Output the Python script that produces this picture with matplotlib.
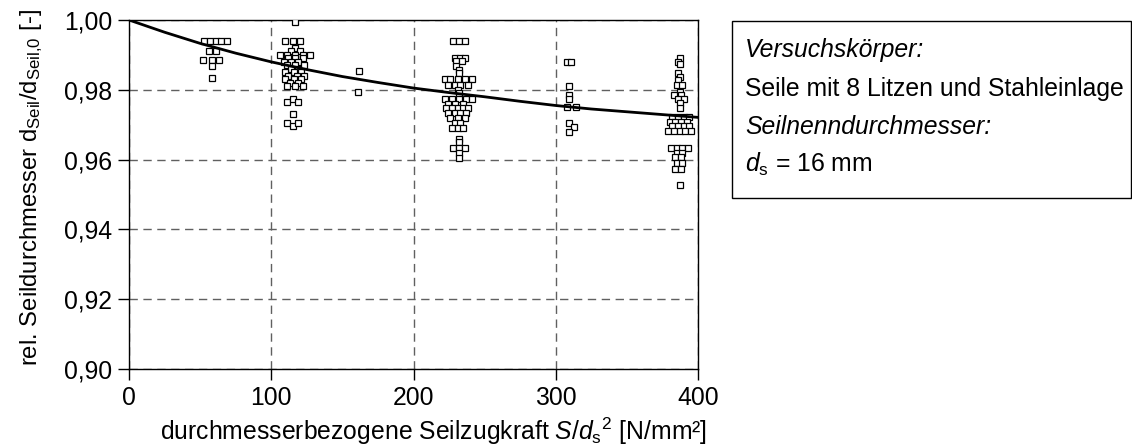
import matplotlib
matplotlib.use('Agg')
import matplotlib.pyplot as plt
from matplotlib.patches import Rectangle

plt.rcParams['font.family'] = ['Liberation Sans', 'DejaVu Sans']
plt.rcParams['mathtext.fontset'] = 'custom'
plt.rcParams['mathtext.rm'] = 'Liberation Sans'
plt.rcParams['mathtext.it'] = 'Liberation Sans:italic'
plt.rcParams['mathtext.default'] = 'regular'

# measured points: (force S/d^2, rel. diameter)
x_60 = [53, 57, 61, 65, 69, 56, 61, 52, 58, 63, 58, 58]
y_60 = [0.994, 0.994, 0.994, 0.994, 0.994, 0.991, 0.991, 0.9885, 0.9885, 0.9885, 0.9868, 0.9835]

x_118 = [117, 110, 115, 120,
         117, 114, 120, 106, 111, 117, 122, 127, 112, 117, 122, 109, 114, 119,
         111, 117, 123, 114, 119, 110, 116, 121, 112, 118, 123, 110, 116, 121,
         113, 119, 111, 117, 122,
         111, 115, 119, 115, 111, 115, 119]
y_118 = [0.9995, 0.994, 0.994, 0.994,
         0.992, 0.991, 0.991, 0.990, 0.990, 0.990, 0.990, 0.990, 0.989, 0.989, 0.989,
         0.988, 0.988, 0.988, 0.987, 0.987, 0.987, 0.986, 0.986, 0.985, 0.985, 0.985,
         0.984, 0.984, 0.984, 0.983, 0.983, 0.983, 0.982, 0.982, 0.981, 0.981, 0.981,
         0.9765, 0.9775, 0.9765, 0.973, 0.9705, 0.9695, 0.9705]

x_163 = [162, 161]
y_163 = [0.9855, 0.9795]

x_235 = [228, 232, 236, 229, 233, 236, 230, 234, 230, 232, 232,
         222, 226, 231, 236, 241, 224, 229, 233, 238, 231, 232,
         222, 227, 232, 237, 241, 224, 229, 235,
         223, 227, 231, 235, 238, 224, 229, 233, 237, 226, 231, 236,
         229, 233, 227, 231, 235, 232, 232, 228, 232, 236, 232, 232]
y_235 = [0.994, 0.994, 0.994, 0.989, 0.989, 0.989, 0.9882, 0.9882, 0.9868, 0.9858, 0.9848,
         0.983, 0.983, 0.983, 0.983, 0.983, 0.9815, 0.9815, 0.9815, 0.9815, 0.980, 0.979,
         0.9775, 0.9775, 0.9775, 0.9775, 0.9775, 0.976, 0.976, 0.976,
         0.9748, 0.9748, 0.9748, 0.9748, 0.9748, 0.9733, 0.9733, 0.9733, 0.9733,
         0.972, 0.972, 0.972, 0.9705, 0.9705, 0.969, 0.969, 0.969, 0.966, 0.965,
         0.9633, 0.9633, 0.9633, 0.962, 0.9605]

x_313 = [308, 311, 309, 309, 309, 308, 314, 309, 313, 309]
y_313 = [0.988, 0.988, 0.981, 0.9785, 0.9774, 0.9751, 0.9751, 0.9705, 0.9693, 0.968]

x_388 = [387, 386, 387, 386, 387, 386, 385, 389, 387, 383, 388, 386, 390, 387, 387,
         382, 386, 390, 394, 380, 384, 388, 392, 382, 386, 390, 394,
         379, 383, 387, 391, 395, 381, 385, 389, 393, 385, 389, 384, 388,
         385, 389, 384, 388, 387]
y_388 = [0.989, 0.988, 0.9874, 0.9847, 0.9838, 0.9828, 0.9814, 0.9814, 0.9795,
         0.9785, 0.9785, 0.9775, 0.9775, 0.9762, 0.9748,
         0.9722, 0.9722, 0.9722, 0.9722, 0.9709, 0.9709, 0.9709, 0.9709,
         0.9696, 0.9696, 0.9696, 0.9696, 0.9683, 0.9683, 0.9683, 0.9683, 0.9683,
         0.9632, 0.9632, 0.9632, 0.9632, 0.962, 0.962, 0.9608, 0.9608,
         0.9589, 0.9589, 0.9572, 0.9572, 0.9527]

# fitted curve
fit_x = [0, 25, 50, 75, 100, 125, 150, 175, 200, 225, 250, 275, 300, 325, 350, 375, 400]
fit_y = [1.000, 0.9965, 0.9933, 0.9905, 0.988, 0.9858, 0.9838, 0.9821, 0.9805,
         0.9792, 0.978, 0.9767, 0.9755, 0.9745, 0.9737, 0.9729, 0.9721]

xticks = [0, 100, 200, 300, 400]
yticks = [0.90, 0.92, 0.94, 0.96, 0.98, 1.00]

FS = 17.8
W, H = 1132, 448
fig = plt.figure(figsize=(W / 100, H / 100), dpi=100)
ax = fig.add_axes([129 / W, 1 - 369 / H, (698 - 129) / W, (369 - 20) / H])

xs = x_60 + x_118 + x_163 + x_235 + x_313 + x_388
ys = y_60 + y_118 + y_163 + y_235 + y_313 + y_388
ax.plot(xs, ys, 's', ms=4.4, mfc='white', mec='black', mew=0.9, zorder=3)
ax.plot(fit_x, fit_y, color='black', lw=2, zorder=4)

ax.set_xlim(0, 400)
ax.set_ylim(0.90, 1.00)
ax.set_xticks(xticks)
ax.set_yticks(yticks)
ax.set_yticklabels([f'{v:.2f}'.replace('.', ',') for v in yticks])
ax.grid(True, color='#606060', ls=(0, (6, 4)), lw=1)
ax.tick_params(labelsize=FS, direction='out', length=8, width=1, pad=4)
for sp in ax.spines.values():
    sp.set_linewidth(1)

ax.set_xlabel(r'durchmesserbezogene Seilzugkraft $\mathit{S}$/$\mathit{d}_\mathrm{s}$$^\mathrm{2}$ [N/mm²]',
              fontsize=FS, va='center')
ax.xaxis.set_label_coords((434 - 129) / (698 - 129), -(431 - 369) / (369 - 20))
ax.set_ylabel(r'rel. Seildurchmesser d$_{Seil}$/d$_{Seil{,}0}$ [-]', fontsize=17.2, va='center')
ax.yaxis.set_label_coords(-(129 - 32) / (698 - 129), (369 - 188) / (369 - 20))

# info box
fig.patches.append(Rectangle((732 / W, 1 - 198 / H), (1131 - 732) / W, (198 - 21) / H,
                             transform=fig.transFigure, fill=False, ec='black', lw=1))
tx = 745 / W
fig.text(tx, 1 - 56.7 / H, 'Versuchskörper:', fontsize=FS, style='italic', va='baseline')
fig.text(tx, 1 - 96 / H, 'Seile mit 8 Litzen und Stahleinlage', fontsize=FS, va='baseline')
fig.text(tx, 1 - 134 / H, 'Seilnenndurchmesser:', fontsize=FS, style='italic', va='baseline')
fig.text(tx, 1 - 171.7 / H, r'$\mathit{d}_\mathrm{s}$ = 16 mm', fontsize=FS, va='baseline')

fig.savefig('out.png', dpi=100)
